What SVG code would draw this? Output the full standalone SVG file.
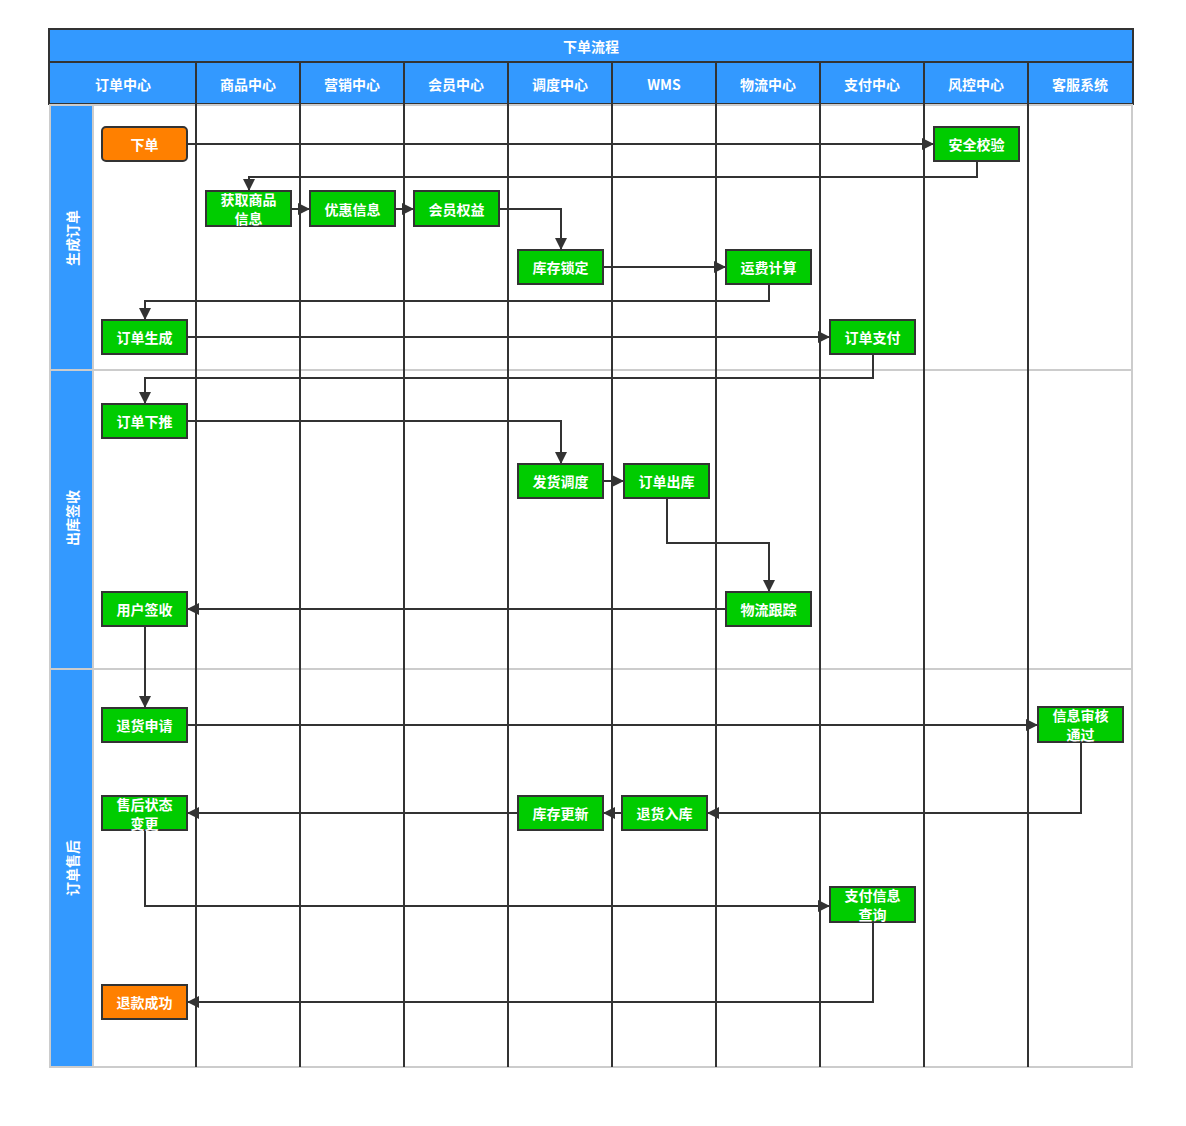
<svg xmlns="http://www.w3.org/2000/svg" width="1186" height="1126" viewBox="0 0 1186 1126">
<style>
text{font-family:"Noto Sans CJK SC","Noto Sans",sans-serif;font-weight:bold;font-size:14px;fill:#fff;text-anchor:middle;dominant-baseline:central}
.hdr{fill:#3399ff;stroke:#333;stroke-width:2}
.lane{fill:#fff;stroke:#ccc;stroke-width:2}
.lbl{fill:#3399ff;stroke:#ccc;stroke-width:2}
.col{stroke:#333;stroke-width:2}
.g{fill:#00cc00;stroke:#333;stroke-width:2}
.o{fill:#ff8000;stroke:#333;stroke-width:2}
.c{fill:none;stroke:#333;stroke-width:2;marker-end:url(#ah)}
</style>
<defs>
<marker id="ah" viewBox="0 0 10 10" refX="10" refY="5" markerWidth="6" markerHeight="6" markerUnits="strokeWidth" orient="auto">
<path d="M0,0 L10,5 L0,10 z" fill="#333"/>
</marker>
</defs>
<rect width="1186" height="1126" fill="#fff"/>
<g id="pool">
<rect class="hdr" x="49" y="29" width="1084" height="33"/>
<text x="591" y="46">下单流程</text>
<rect class="hdr" x="49" y="62" width="147" height="42"/>
<rect class="hdr" x="196" y="62" width="104" height="42"/>
<rect class="hdr" x="300" y="62" width="104" height="42"/>
<rect class="hdr" x="404" y="62" width="104" height="42"/>
<rect class="hdr" x="508" y="62" width="104" height="42"/>
<rect class="hdr" x="612" y="62" width="104" height="42"/>
<rect class="hdr" x="716" y="62" width="104" height="42"/>
<rect class="hdr" x="820" y="62" width="104" height="42"/>
<rect class="hdr" x="924" y="62" width="104" height="42"/>
<rect class="hdr" x="1028" y="62" width="105" height="42"/>
<text x="123" y="84">订单中心</text>
<text x="248" y="84">商品中心</text>
<text x="352" y="84">营销中心</text>
<text x="456" y="84">会员中心</text>
<text x="560" y="84">调度中心</text>
<text x="664" y="84">WMS</text>
<text x="768" y="84">物流中心</text>
<text x="872" y="84">支付中心</text>
<text x="976" y="84">风控中心</text>
<text x="1080" y="84">客服系统</text>
<rect class="lane" x="50" y="105" width="1082" height="265"/>
<rect class="lane" x="50" y="370" width="1082" height="299"/>
<rect class="lane" x="50" y="669" width="1082" height="398"/>
<rect class="lbl" x="50" y="105" width="43" height="265"/>
<rect class="lbl" x="50" y="370" width="43" height="299"/>
<rect class="lbl" x="50" y="669" width="43" height="398"/>
<text transform="translate(72,238) rotate(-90)">生成订单</text>
<text transform="translate(72,518) rotate(-90)">出库签收</text>
<text transform="translate(72,868) rotate(-90)">订单售后</text>
<line class="col" x1="196" y1="104" x2="196" y2="1067"/>
<line class="col" x1="300" y1="104" x2="300" y2="1067"/>
<line class="col" x1="404" y1="104" x2="404" y2="1067"/>
<line class="col" x1="508" y1="104" x2="508" y2="1067"/>
<line class="col" x1="612" y1="104" x2="612" y2="1067"/>
<line class="col" x1="716" y1="104" x2="716" y2="1067"/>
<line class="col" x1="820" y1="104" x2="820" y2="1067"/>
<line class="col" x1="924" y1="104" x2="924" y2="1067"/>
<line class="col" x1="1028" y1="104" x2="1028" y2="1067"/>
</g>
<g id="connectors">
<path class="c" d="M187,144 H934"/>
<path class="c" d="M977,161 V177 H249 V191"/>
<path class="c" d="M291,209 H310"/>
<path class="c" d="M395,209 H414"/>
<path class="c" d="M499,209 H561 V250"/>
<path class="c" d="M603,267 H726"/>
<path class="c" d="M769,284 V301 H145 V320"/>
<path class="c" d="M187,337 H830"/>
<path class="c" d="M873,354 V378 H145 V404"/>
<path class="c" d="M187,421 H561 V464"/>
<path class="c" d="M603,481 H624"/>
<path class="c" d="M667,498 V543 H769 V592"/>
<path class="c" d="M726,609 H187"/>
<path class="c" d="M145,626 V708"/>
<path class="c" d="M187,725 H1038"/>
<path class="c" d="M1081,742 V813 H707"/>
<path class="c" d="M622,813 H603"/>
<path class="c" d="M518,813 H187"/>
<path class="c" d="M145,830 V906 H830"/>
<path class="c" d="M873,922 V1002 H187"/>
</g>
<g id="n_xiadan"><rect class="o" x="102" y="127" width="85" height="34" rx="4"/><text x="144.5" y="144">下单</text></g>
<g id="n_anquan"><rect class="g" x="934" y="127" width="85" height="34"/><text x="976.5" y="144">安全校验</text></g>
<g id="n_huoqu"><rect class="g" x="206" y="191" width="85" height="35"/><text x="248.5" y="199">获取商品</text><text x="248.5" y="218">信息</text></g>
<g id="n_youhui"><rect class="g" x="310" y="191" width="85" height="35"/><text x="352.5" y="209">优惠信息</text></g>
<g id="n_huiyuan"><rect class="g" x="414" y="191" width="85" height="35"/><text x="456.5" y="209">会员权益</text></g>
<g id="n_kucunsuo"><rect class="g" x="518" y="250" width="85" height="34"/><text x="560.5" y="267">库存锁定</text></g>
<g id="n_yunfei"><rect class="g" x="726" y="250" width="85" height="34"/><text x="768.5" y="267">运费计算</text></g>
<g id="n_shengcheng"><rect class="g" x="102" y="320" width="85" height="34"/><text x="144.5" y="337">订单生成</text></g>
<g id="n_zhifu"><rect class="g" x="830" y="320" width="85" height="34"/><text x="872.5" y="337">订单支付</text></g>
<g id="n_xiatui"><rect class="g" x="102" y="404" width="85" height="34"/><text x="144.5" y="421">订单下推</text></g>
<g id="n_fahuo"><rect class="g" x="518" y="464" width="85" height="34"/><text x="560.5" y="481">发货调度</text></g>
<g id="n_chuku"><rect class="g" x="624" y="464" width="85" height="34"/><text x="666.5" y="481">订单出库</text></g>
<g id="n_wuliu"><rect class="g" x="726" y="592" width="85" height="34"/><text x="768.5" y="609">物流跟踪</text></g>
<g id="n_qianshou"><rect class="g" x="102" y="592" width="85" height="34"/><text x="144.5" y="609">用户签收</text></g>
<g id="n_tuihuo"><rect class="g" x="102" y="708" width="85" height="34"/><text x="144.5" y="725">退货申请</text></g>
<g id="n_shenhe"><rect class="g" x="1038" y="707" width="85" height="35"/><text x="1080.5" y="715">信息审核</text><text x="1080.5" y="734">通过</text></g>
<g id="n_shouhou"><rect class="g" x="102" y="796" width="85" height="34"/><text x="144.5" y="804">售后状态</text><text x="144.5" y="823">变更</text></g>
<g id="n_kucungeng"><rect class="g" x="518" y="796" width="85" height="34"/><text x="560.5" y="813">库存更新</text></g>
<g id="n_ruku"><rect class="g" x="622" y="796" width="85" height="34"/><text x="664.5" y="813">退货入库</text></g>
<g id="n_zhifuxinxi"><rect class="g" x="830" y="887" width="85" height="35"/><text x="872.5" y="895">支付信息</text><text x="872.5" y="914">查询</text></g>
<g id="n_tuikuan"><rect class="o" x="102" y="985" width="85" height="34"/><text x="144.5" y="1002">退款成功</text></g>
</svg>
